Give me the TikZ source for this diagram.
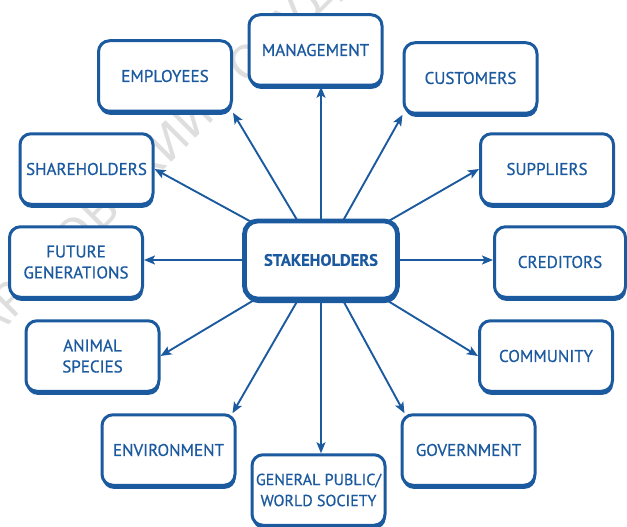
\documentclass[tikz,border=0pt]{standalone}
\usepackage{fontspec}
\setmainfont{PT Sans}
\newfontfamily\boxfont[RawFeature={embolden=0.7}]{PT Sans}
\newfontfamily\hubfont[RawFeature={embolden=0.4}]{PT Sans Bold}
\newfontfamily\wmfont{DejaVu Sans}
\usetikzlibrary{arrows.meta,shadows,backgrounds}
\definecolor{sblue}{RGB}{28,90,160}
\begin{document}
\begin{tikzpicture}[x=1pt,y=-1pt,
  box/.style={draw=sblue, line width=3pt, fill=white, rounded corners=11pt,
    minimum width=133pt, minimum height=70.5pt, text=sblue, align=center,
    font=\boxfont\fontsize{17}{21}\selectfont, inner sep=2pt,
    drop shadow={shadow xshift=0.7pt, shadow yshift=-3.6pt, fill=sblue, opacity=1}},
  hub/.style={box, line width=4.8pt, minimum width=153pt, minimum height=78pt,
    font=\hubfont\fontsize{16.5}{21}\selectfont, rounded corners=13pt,
    drop shadow={shadow xshift=0.7pt, shadow yshift=-4pt, fill=sblue, opacity=1}},
  arr/.style={draw=sblue, line width=1.9pt, -{Stealth[length=11pt,width=9pt,inset=2.5pt]}},
  wm/.style={text=black!13, inner sep=0pt, font=\wmfont\fontsize{46}{50}\selectfont}
]
\useasboundingbox (0,0) rectangle (627,527);

\node[box] (emp) at (165,76) {EMPLOYEES};
\node[box] (man) at (315.5,50) {MANAGEMENT};
\node[box] (cus) at (470.5,78) {CUSTOMERS};
\node[box] (sha) at (86.5,169) {SHAREHOLDERS};
\node[box] (sup) at (547,169) {SUPPLIERS};
\node[box] (fut) at (76,262) {FUTURE\\GENERATIONS};
\node[hub] (stk) at (321,260) {STAKEHOLDERS};
\node[box, minimum width=131pt] (cre) at (560,262) {CREDITORS};
\node[box] (ani) at (92.5,356) {ANIMAL\\SPECIES};
\node[box] (com) at (546,356) {COMMUNITY};
\node[box] (env) at (168.5,450) {ENVIRONMENT};
\node[box, font=\boxfont\fontsize{16}{21}\selectfont] (gen) at (318.5,490) {GENERAL PUBLIC/\\WORLD SOCIETY};
\node[box] (gov) at (468.5,450) {GOVERNMENT};

\begin{pgfonlayer}{background}
  \node[wm, rotate=45, anchor=base west] (wmark) at (12.7,321) {\llap{СА}РАТОВСКИЙ ГОСУДАРСТВЕННЫЙ};
  \draw[arr] (stk.center) -- (stk.center |- man.south);
  \draw[arr] (stk.center) -- (emp.south east);
  \draw[arr] (stk.center) -- (sha.east);
  \draw[arr] (stk.center) -- (cus.south west);
  \draw[arr] (stk.center) -- (sup.west);
  \draw[arr] (stk.center) -- (stk.center -| fut.east);
  \draw[arr] (stk.center) -- (stk.center -| cre.west);
  \draw[arr] (stk.center) -- (ani.east);
  \draw[arr] (stk.center) -- (com.west);
  \draw[arr] (stk.center) -- ([xshift=-4pt]env.north east);
  \draw[arr] (stk.center) -- ([xshift=4pt]gov.north west);
  \draw[arr] (stk.center) -- (stk.center |- gen.north);
\end{pgfonlayer}
\end{tikzpicture}
\end{document}
